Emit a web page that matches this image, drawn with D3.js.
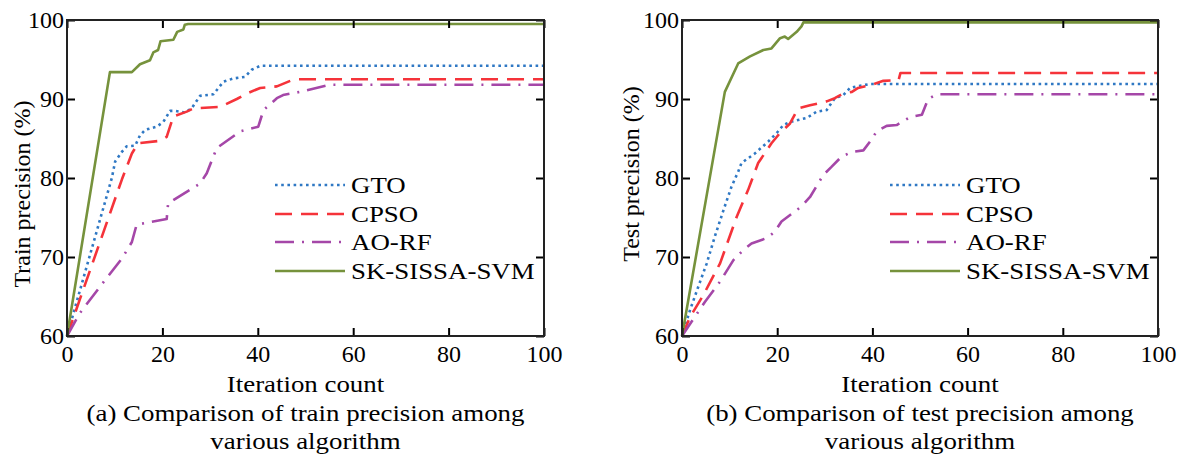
<!DOCTYPE html>
<html>
<head>
<meta charset="utf-8">
<script src="https://cdn.jsdelivr.net/npm/d3@7"></script>
<style>
  body { margin: 0; background: #fff; }
  svg { display: block; }
  text { font-family: "Liberation Serif", "Times New Roman", serif; fill: #000; }
</style>
</head>
<body>
<svg id="chart" width="1181" height="454"></svg>
<script>
// ---- data ----
const xTicks = [0, 20, 40, 60, 80, 100];
const yTicks = [60, 70, 80, 90, 100];
const seriesNames = ["GTO", "CPSO", "AO-RF", "SK-SISSA-SVM"];

// training precision (%) vs iteration: [iteration, precision]
const trainGTO = [[0,60],[9.4,80],[10.1,82.1],[11.5,83.3],[12.5,84.0],[14.3,84.1],[15.3,85.4],[16.4,86.1],[18.8,86.5],[20.2,87.1],[21.6,88.5],[22.6,88.5],[24.7,88.3],[26.1,88.8],[27.9,90.4],[30.7,90.6],[32.8,92.2],[34.9,92.6],[37.3,92.8],[38.7,93.7],[40.5,94.2],[100,94.2]];
const trainCPSO = [[0,60],[11.5,79.8],[13.6,83.1],[14.9,84.4],[19.5,84.7],[20.9,85.2],[22.3,87.8],[25.1,88.4],[26.5,88.8],[32.1,89.0],[35.6,90.0],[37.7,90.7],[40.5,91.4],[44.0,91.6],[46.8,92.3],[48.2,92.5],[100,92.5]];
const trainAORF = [[0,60],[2.7,62.9],[8.0,67.1],[11.5,69.8],[13.6,71.9],[14.6,74.1],[20.9,74.8],[21.2,76.8],[27.9,79.3],[29.3,80.6],[31.4,83.8],[36.3,85.9],[40.1,86.5],[41.2,88.6],[44.0,90.1],[45.3,90.5],[48.8,90.9],[55.0,91.8],[100,91.8]];
const trainSK = [[0,60],[9.0,93.4],[13.6,93.4],[15.3,94.4],[17.4,94.9],[18.1,95.9],[19.1,96.2],[19.6,97.3],[22.3,97.5],[23.1,98.5],[24.4,98.8],[24.7,99.4],[25.4,99.5],[100,99.5]];

// test precision (%) vs iteration
const testGTO = [[0,60],[1.7,63.3],[3.4,66.2],[5.2,69.2],[6.9,72.6],[8.7,75.9],[10.4,78.9],[11.8,80.8],[12.5,81.9],[15.3,83.1],[18.1,84.6],[19.9,85.7],[21.3,86.7],[22.7,87.1],[26.2,87.6],[28.3,88.4],[30.4,88.6],[31.4,89.5],[32.1,90.1],[33.9,90.5],[35.3,91.4],[36.7,91.6],[39.5,91.9],[100,91.9]];
const testCPSO = [[0,60],[1.7,62.4],[4.5,65.2],[8.0,69.2],[11.5,75.1],[13.9,78.5],[16.0,81.9],[18.8,84.4],[20.6,85.7],[22.7,86.9],[24.4,88.8],[26.9,89.2],[30.4,89.7],[32.1,90.1],[33.9,90.7],[35.7,90.9],[37.0,91.4],[39.9,91.8],[42.3,92.3],[45.5,92.4],[45.9,93.3],[100,93.3]];
const testAORF = [[0,60],[2.0,61.8],[4.8,64.3],[8.0,66.9],[10.8,69.6],[12.9,70.9],[14.6,71.7],[17.8,72.4],[19.5,73.2],[20.9,74.5],[25.1,76.4],[26.9,77.6],[29.7,80.4],[31.4,81.4],[33.5,82.7],[35.7,83.3],[38.1,83.5],[39.5,84.6],[40.9,85.9],[43.0,86.6],[45.1,86.7],[47.9,87.7],[50.4,88.0],[51.7,90.0],[53.5,90.6],[100,90.6]];
const testSK = [[0,60],[9.0,90.9],[11.8,94.5],[14.3,95.4],[17.1,96.2],[18.8,96.4],[20.6,97.7],[21.6,97.9],[22.3,97.6],[24.1,98.5],[25.1,99.2],[25.5,99.7],[100,99.7]];

// ---- styles ----
const lineColors = ["#2f78c4", "#f5333a", "#a547a8", "#76923c"];
const lineDashes = ["2.6,3.6", "17,9", "19,8,2,8", null];

// ---- panel layout ----
const panels = [
  { left: 67, right: 544, top: 20, bottom: 336,
    yLabel: "Train precision (%)", yLabelX: 30, yLabelY: 194,
    caption: ["(a) Comparison of train precision among", "various algorithm"],
    series: [trainGTO, trainCPSO, trainAORF, trainSK] },
  { left: 682, right: 1158, top: 20, bottom: 336,
    yLabel: "Test precision (%)", yLabelX: 639, yLabelY: 174,
    caption: ["(b) Comparison of test precision among", "various algorithm"],
    series: [testGTO, testCPSO, testAORF, testSK] }
];

const svg = d3.select("#chart");
const SX = 1.12; // horizontal text stretch

function hText(g, x, y, str, anchor) {
  return g.append("text")
    .attr("transform", `translate(${x},${y}) scale(${SX},1)`)
    .attr("text-anchor", anchor)
    .style("font-size", "24px")
    .text(str);
}

panels.forEach(p => {
  const g = svg.append("g");
  const x = d3.scaleLinear().domain([0, 100]).range([p.left, p.right]);
  const y = d3.scaleLinear().domain([60, 100]).range([p.bottom, p.top]);

  // series lines
  const line = d3.line().x(d => x(d[0])).y(d => y(d[1]));
  p.series.forEach((s, i) => {
    g.append("path")
      .datum(s)
      .attr("d", line)
      .attr("fill", "none")
      .attr("stroke", lineColors[i])
      .attr("stroke-width", 2.6)
      .attr("stroke-linejoin", "round")
      .attr("stroke-dasharray", lineDashes[i]);
  });

  // axes with inward ticks on all four sides
  const styleAxis = sel => {
    sel.select(".domain").remove();
    sel.selectAll(".tick line").attr("stroke", "#000").attr("stroke-width", 2);
    sel.selectAll(".tick text")
      .style("font-family", '"Liberation Serif","Times New Roman",serif')
      .style("font-size", "24px").attr("fill", "#000");
  };
  g.append("g").attr("transform", `translate(0,${p.bottom})`)
    .call(d3.axisBottom(x).tickValues(xTicks).tickSizeInner(-8).tickSizeOuter(0).tickPadding(9))
    .call(styleAxis);
  g.append("g").attr("transform", `translate(0,${p.top})`)
    .call(d3.axisTop(x).tickValues(xTicks).tickSizeInner(-8).tickSizeOuter(0).tickFormat(""))
    .call(styleAxis);
  g.append("g").attr("transform", `translate(${p.left},0)`)
    .call(d3.axisLeft(y).tickValues(yTicks).tickSizeInner(-8).tickSizeOuter(0).tickPadding(3))
    .call(styleAxis);
  g.append("g").attr("transform", `translate(${p.right},0)`)
    .call(d3.axisRight(y).tickValues(yTicks).tickSizeInner(-8).tickSizeOuter(0).tickFormat(""))
    .call(styleAxis);

  // frame
  g.append("rect")
    .attr("x", p.left).attr("y", p.top)
    .attr("width", p.right - p.left).attr("height", p.bottom - p.top)
    .attr("fill", "none").attr("stroke", "#222").attr("stroke-width", 2);

  // legend
  const rows = [185, 214, 242, 271];
  seriesNames.forEach((name, i) => {
    g.append("line")
      .attr("x1", p.left + 208).attr("x2", p.left + 278)
      .attr("y1", rows[i]).attr("y2", rows[i])
      .attr("stroke", lineColors[i]).attr("stroke-width", 2.6)
      .attr("stroke-dasharray", lineDashes[i]);
    hText(g, p.left + 284, rows[i] + 8, name, "start");
  });

  // axis titles and caption
  const cx = (p.left + p.right) / 2;
  hText(g, cx, 392, "Iteration count", "middle");
  hText(g, cx, 421, p.caption[0], "middle");
  hText(g, cx, 449, p.caption[1], "middle");

  g.append("text")
    .attr("transform", `translate(${p.yLabelX},${p.yLabelY}) rotate(-90)`)
    .attr("text-anchor", "middle")
    .style("font-size", "24px")
    .text(p.yLabel);
});
</script>
</body>
</html>
